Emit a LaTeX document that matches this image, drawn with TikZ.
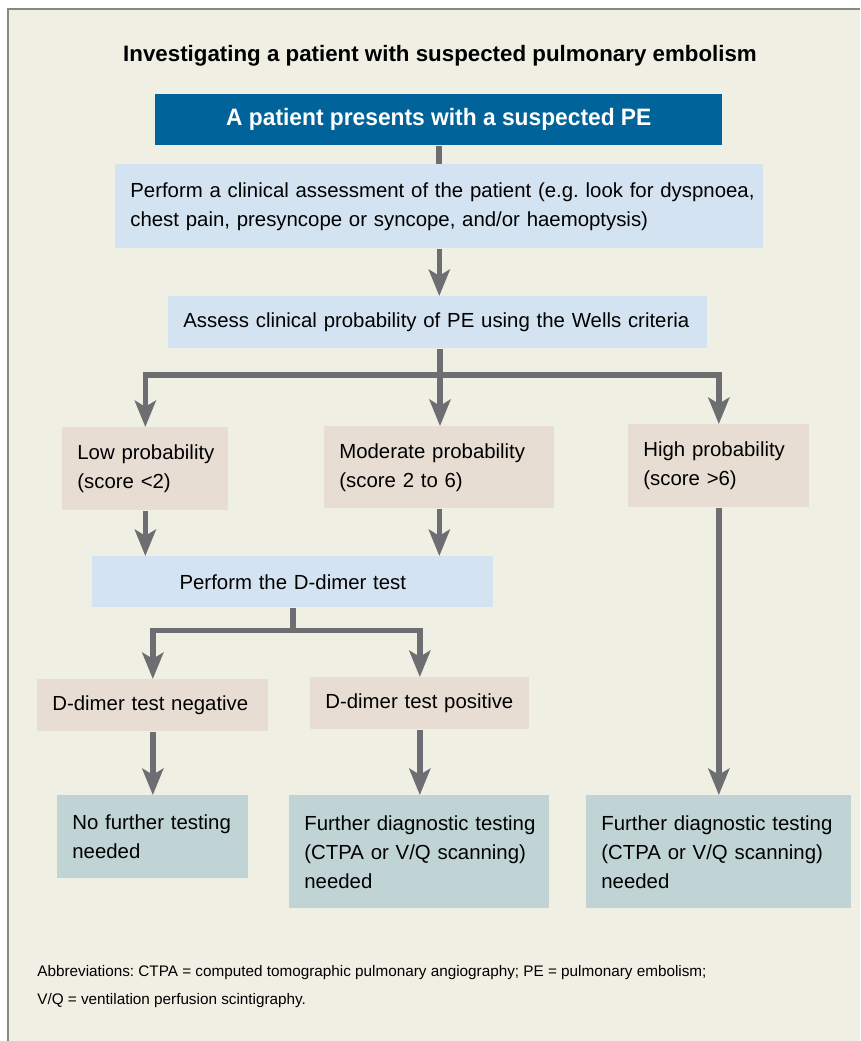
\documentclass[tikz,border=0pt]{standalone}
\usepackage{fontspec}
\setmainfont{Liberation Sans}
\newfontfamily\headfont[FakeStretch=0.96]{Liberation Sans}
\usepackage{xcolor}
\usetikzlibrary{arrows.meta, positioning, calc}
\frenchspacing

\definecolor{bgcream}{RGB}{240,239,228}
\definecolor{framegray}{RGB}{136,136,136}
\definecolor{peblue}{RGB}{0,100,154}
\definecolor{paleblue}{RGB}{212,227,241}
\definecolor{beige}{RGB}{232,221,211}
\definecolor{tealgray}{RGB}{192,212,214}
\definecolor{arrowgray}{RGB}{109,110,114}

\begin{document}
\begin{tikzpicture}[x=0.02cm, y=-0.02cm, >={Stealth[length=15pt, width=12pt, inset=3.5pt]},
    link/.style={draw=arrowgray, line width=3.1pt},
    flow/.style={link, ->}]
    % Define styles for boxes and texts
    \tikzstyle{box} = [rectangle, anchor=north west, inner xsep=0.3cm, inner ysep=0pt, font=\fontsize{11.6}{16.5}\selectfont,
        execute at begin node={\parindent=0pt\rightskip=0pt plus 1fil minus 3cm}]
    \tikzstyle{query} = [box, fill=paleblue]
    \tikzstyle{score} = [box, fill=beige]
    \tikzstyle{result} = [box, fill=tealgray]

    \useasboundingbox (0,0) rectangle (860,1041);
    \fill[bgcream] (8,9) rectangle (860,1041);
    \draw[framegray, line width=1.2pt] (8,1041) -- (8,9) -- (860,9);

    % Nodes placement
    \node[anchor=base, font=\bfseries\fontsize{12.7}{15}\selectfont] (title) at (440,61) {Investigating a patient with suspected pulmonary embolism};
    \node[anchor=north west, fill=peblue, text=white, minimum width=11.34cm, minimum height=1.02cm, font=\headfont\bfseries\fontsize{13.5}{16}\selectfont] (start) at (155,94) {A patient presents with a suspected PE};
    \node[query, text width=12.36cm, minimum height=1.68cm] (assess) at (115,164) {Perform a clinical assessment of the patient (e.g. look for dyspnoea,\\chest pain, presyncope or syncope, and/or haemoptysis)};
    \node[query, text width=10.18cm, minimum height=1.04cm] (wells) at (168,296) {Assess clinical probability of PE using the Wells criteria};

    \node[score, text width=2.72cm, minimum height=1.66cm] (low) at (62,427) {Low probability\\(score <2)};
    \node[score, text width=4cm, minimum height=1.64cm] (moderate) at (324,426) {Moderate probability\\(score 2 to 6)};
    \node[score, text width=3.02cm, minimum height=1.66cm] (high) at (628,424) {High probability\\(score >6)};

    \node[query, text width=7.42cm, minimum height=1.02cm,
        execute at begin node={\parindent=0pt\parfillskip=0pt\leftskip=0pt plus 1fil\rightskip=0pt plus 1fil}] (dimer) at (92,556) {Perform the D-dimer test};
    \node[score, text width=4.02cm, minimum height=1.04cm] (negative) at (37,679) {D-dimer test negative};
    \node[score, text width=3.78cm, minimum height=1.04cm] (positive) at (310,677) {D-dimer test positive};

    \node[result, text width=3.22cm, minimum height=1.66cm] (nofurther) at (57,795) {No further testing\\needed};
    \node[result, text width=4.6cm, minimum height=2.26cm] (further) at (289,795) {Further diagnostic testing\\(CTPA or V/Q scanning)\\needed};
    \node[result, text width=4.7cm, minimum height=2.26cm] (furtherhigh) at (586,795) {Further diagnostic testing\\(CTPA or V/Q scanning)\\needed};

    \node[anchor=base west, inner sep=0pt, align=left, font=\fontsize{8.7}{15.4}\selectfont] (abbrev) at (37,1004) {Abbreviations: CTPA = computed tomographic pulmonary angiography; PE = pulmonary embolism;\\V/Q = ventilation perfusion scintigraphy.};

    % Draw edges
    \draw[link] (start.south) -- (start.south |- assess.north);
    \draw[flow] (assess.south) -- (assess.south |- wells.north);

    \coordinate (wsplit) at (440,375);
    \draw[link] (wells.south -| wsplit) -- (wsplit);
    \draw[flow] (wsplit) -| (low.north);
    \draw[flow] (wsplit) -- (wsplit |- moderate.north);
    \draw[flow] (wsplit) -| (high.north);

    \draw[flow] (low.south) -- (low.south |- dimer.north);
    \draw[flow] (moderate.south) -- (moderate.south |- dimer.north);

    \coordinate (dsplit) at ($(dimer.south)+(0,23)$);
    \draw[link] (dimer.south) -- (dsplit);
    \draw[flow] (dsplit) -| (negative.north);
    \draw[flow] (dsplit) -| (positive.north);

    \draw[flow] (negative.south) -- (negative.south |- nofurther.north);
    \draw[flow] (positive.south) -- (positive.south |- further.north);
    \draw[flow] (high.south) -- (high.south |- furtherhigh.north);
\end{tikzpicture}
\end{document}
